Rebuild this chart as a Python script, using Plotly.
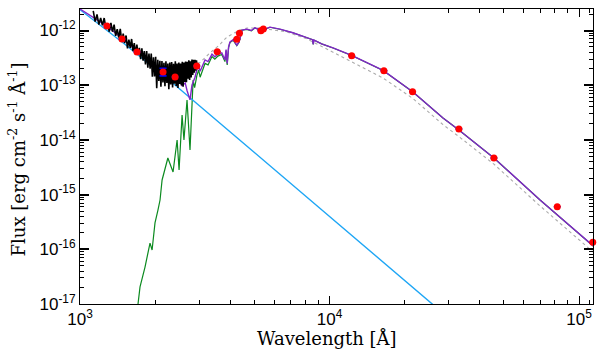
import plotly.graph_objects as go

S = 1e-13  # flux values below are in units of 1e-13 erg cm^-2 s^-1 A^-1

# Observed UV spectrum (black)
uv_wl = [1130, 1150, 1170, 1190, 1210, 1230, 1250, 1270, 1290, 1310, 1330, 1350, 1370, 1390,
         1410, 1430, 1450, 1470, 1490, 1510, 1530, 1550, 1570, 1590, 1610, 1630, 1650, 1670,
         1690, 1710, 1730, 1750, 1770, 1790, 1810, 1830, 1850, 1870, 1890, 1910, 1930, 1950,
         1970, 1990, 2010, 2030, 2050, 2070, 2090, 2110, 2130, 2150, 2170, 2190, 2210, 2230,
         2250, 2270, 2290, 2310, 2330, 2350, 2370, 2390, 2410, 2430, 2450, 2470, 2490, 2510,
         2530, 2550, 2570, 2590, 2610, 2630, 2650, 2670, 2690, 2710, 2730, 2750, 2770, 2790,
         2810, 2830, 2850, 2870, 2890, 2910, 2930, 2950]
uv_flux = [22.8, 14.5, 19.7, 12.8, 17.0, 12.4, 16.9, 11.0, 13.5, 9.5, 13.7, 9.5, 12.8, 8.0,
           10.6, 7.4, 10.7, 6.2, 8.8, 5.9, 8.1, 4.7, 6.8, 4.8, 7.0, 4.2, 5.9, 3.7,
           5.5, 3.6, 4.8, 3.0, 4.7, 2.8, 4.2, 2.4, 4.2, 2.1, 3.8, 2.0, 3.8, 1.43,
           3.25, 1.44, 3.3, 0.88, 2.9, 1.2, 2.8, 0.94, 2.76, 1.12, 2.57, 0.96, 2.75, 1.1,
           2.5, 0.84, 2.6, 1.03, 2.65, 0.91, 2.46, 1.06, 2.75, 0.97, 2.5, 0.89, 2.6, 1.05,
           2.5, 0.99, 2.67, 0.94, 2.6, 1.14, 2.7, 1.13, 2.68, 1.32, 2.85, 1.25, 2.74, 1.39,
           2.93, 1.54, 2.9, 1.69, 2.9, 1.84, 2.86, 1.98]

# Total model (purple)
tot_wl = [1000, 1130, 1282, 1473, 1692, 1900, 2152, 2405, 2500, 2565, 2640, 2685, 2720, 2760,
          2810, 2890, 2940, 2980, 3030, 3090, 3170, 3260, 3380, 3470, 3570, 3700, 3810, 3850,
          3890, 3940, 3990, 4110, 4250, 4340, 4400, 4460, 4660, 4860, 5020, 5350, 5770, 6330,
          7130, 7620, 8130, 8550, 8600, 8660, 9300, 10330, 12270, 16400, 21600, 28500, 33000,
          45600, 69800, 114000]
tot_flux = [24.7, 17.5, 12.0, 7.2, 4.2, 2.8, 1.85, 1.35, 1.2, 0.98, 1.1, 0.8, 0.65, 0.54,
            1.0, 1.4, 1.9, 2.3, 1.8, 2.2, 2.9, 2.7, 3.7, 3.3, 3.7, 3.9, 2.9, 4.5,
            2.5, 5.0, 6.2, 6.8, 5.4, 6.2, 8.5, 10.2, 10.6, 10.0, 11.2, 10.0, 11.5, 10.6,
            9.1, 8.2, 7.5, 6.8, 5.6, 6.7, 5.7, 4.8, 3.5, 1.86, 0.75, 0.251, 0.152,
            0.0467, 0.00796, 0.00115]

# Cool component (green)
cool_wl = [1708, 1740, 1822, 1908, 1945, 1998, 2053, 2093, 2133, 2191, 2250, 2360, 2450, 2495,
           2565, 2610, 2685, 2760, 2810, 2840, 2880, 2940, 2990, 3030, 3090, 3170, 3260, 3380,
           3470, 3570, 3700, 3810, 3850, 3890, 3940, 3990, 4110, 4250, 4340, 4400, 4460, 4660,
           4860, 5020, 5350, 5770, 6330, 7130, 7620, 8130, 8550, 8600, 8660, 9300, 10330, 12270,
           16400, 21600, 28500, 33000, 45600, 69800, 114000]
cool_flux = [0.0001, 0.000205, 0.000474, 0.0013, 0.00097, 0.00303, 0.00522, 0.00796, 0.0185,
             0.0282, 0.0467, 0.0259, 0.0995, 0.0282, 0.285, 0.0995, 0.536, 0.0653, 0.536,
             1.24, 0.9, 1.5, 1.9, 1.4, 1.8, 2.5, 2.35, 3.35, 3.0, 3.4, 3.65, 2.7, 4.3, 2.35,
             4.85, 6.0, 6.65, 5.3, 6.1, 8.4, 10.1, 10.5, 9.9, 11.1, 9.95, 11.45, 10.55, 9.08,
             8.18, 7.48, 6.79, 5.59, 6.69, 5.69, 4.79, 3.49, 1.86, 0.75, 0.251, 0.152, 0.0467,
             0.00796, 0.00115]

# Hot component (blue)
hot_wl = [1000, 1500, 2000, 2403, 5000, 10000, 26000, 30000]
hot_flux = [24.0, 5.77, 1.99, 1.01, 0.059, 0.0040, 0.000097, 0.0000557]

# Alternative model (grey dotted)
alt_wl = [2650, 2800, 2950, 3027, 3320, 3600, 3880, 4375, 4670, 5260, 6760, 8130, 10330,
          12270, 16400, 21600, 28500, 33000, 45600, 69800, 114000]
alt_flux = [2.6, 2.6, 2.5, 2.6, 3.9, 5.3, 7.6, 10.2, 11.1, 11.1, 9.4, 7.0, 4.0,
            2.65, 1.35, 0.57, 0.19, 0.115, 0.036, 0.0062, 0.00089]

# Photometry (red dots)
phot_wl = [1282, 1473, 1692, 2152, 2405, 2937, 3548, 4250, 4355, 5308, 5430, 12270, 16520,
           21520, 33000, 45600, 81800, 113500]
phot_flux = [12.1, 7.0, 4.05, 1.74, 1.41, 2.24, 4.09, 6.9, 8.9, 9.9, 10.6, 3.46, 1.84,
             0.76, 0.158, 0.0467, 0.0060, 0.00134]
phot_err_hi = [None, None, None, 0.30, None, None, None, None, None, None, None, None, None,
               None, None, None, None, None]
phot_err_lo = [None, None, None, 0.26, None, None, None, None, None, None, None, None, None,
               None, None, None, None, None]

x_tickvals = [1e3, 1e4, 1e5]
x_ticktext = ["10<sup>3</sup>", "10<sup>4</sup>", "10<sup>5</sup>"]
y_tickvals = [1e-17, 1e-16, 1e-15, 1e-14, 1e-13, 1e-12]
y_ticktext = ["10<sup>-17</sup>", "10<sup>-16</sup>", "10<sup>-15</sup>",
              "10<sup>-14</sup>", "10<sup>-13</sup>", "10<sup>-12</sup>"]
x_title = "Wavelength [Å]"
y_title = "Flux [erg cm<sup>-2</sup> s<sup>-1</sup> Å<sup>-1</sup>]"


def sc(v):
    return [None if a is None else a * S for a in v]


fig = go.Figure()
fig.add_trace(go.Scatter(x=cool_wl, y=sc(cool_flux), mode="lines",
                         line=dict(color="#0b8a1f", width=1.2), hoverinfo="skip"))
fig.add_trace(go.Scatter(x=hot_wl, y=sc(hot_flux), mode="lines",
                         line=dict(color="#1ea6f5", width=1.4), hoverinfo="skip"))
fig.add_trace(go.Scatter(x=alt_wl, y=sc(alt_flux), mode="lines",
                         line=dict(color="#ababab", width=1.1, dash="dot"), hoverinfo="skip"))
fig.add_trace(go.Scatter(x=tot_wl, y=sc(tot_flux), mode="lines",
                         line=dict(color="#8224c8", width=1.4), hoverinfo="skip"))
fig.add_trace(go.Scatter(x=uv_wl, y=sc(uv_flux), mode="lines",
                         line=dict(color="#000000", width=1.6), hoverinfo="skip"))
# error bars (drawn beneath the dots)
fig.add_trace(go.Scatter(x=phot_wl, y=sc(phot_flux), mode="markers", cliponaxis=False,
                         marker=dict(color="rgba(0,0,0,0)", size=1),
                         error_y=dict(type="data", symmetric=False, array=sc(phot_err_hi),
                                      arrayminus=sc(phot_err_lo), color="#0000ff",
                                      thickness=1.6, width=3.5),
                         hoverinfo="skip"))
fig.add_trace(go.Scatter(x=phot_wl, y=sc(phot_flux), mode="markers", cliponaxis=False,
                         marker=dict(color="#ff0000", size=7, line=dict(width=0)),
                         hoverinfo="skip"))

tickfont = dict(family="Liberation Sans, Arial, sans-serif", size=17, color="black")
titlefont = dict(family="DejaVu Serif, serif", size=18, color="black")

fig.update_layout(
    template="none",
    width=599, height=349,
    margin=dict(l=80, r=6, t=9, b=45, autoexpand=False),
    paper_bgcolor="white", plot_bgcolor="white",
    showlegend=False,
    xaxis=dict(type="log", range=[3, 5.056], tickmode="array", tickvals=x_tickvals,
               ticktext=x_ticktext, ticks="inside", ticklen=8, tickwidth=1.2,
               tickcolor="black", showline=True, linecolor="black", linewidth=1,
               mirror="allticks", showgrid=False, zeroline=False, tickfont=tickfont,
               ticklabelstandoff=0, automargin=False,
               minor=dict(ticks="inside", ticklen=4, tickwidth=1, tickcolor="black",
                          showgrid=False,
                          tickvals=[m * 10 ** e for e in (3, 4) for m in range(2, 10)] + [1.1e5])),
    yaxis=dict(type="log", range=[-17, -11.607], tickmode="array", tickvals=y_tickvals,
               ticktext=y_ticktext, ticks="inside", ticklen=9, tickwidth=1.5,
               tickcolor="black", showline=True, linecolor="black", linewidth=1,
               mirror="allticks", showgrid=False, zeroline=False, tickfont=tickfont,
               ticklabelstandoff=0, automargin=False,
               minor=dict(ticks="inside", ticklen=4, tickwidth=1, tickcolor="black",
                          showgrid=False,
                          tickvals=[m * 10.0 ** e for e in range(-17, -11) for m in range(2, 10)])),
    annotations=[
        dict(text=x_title, xref="paper", yref="paper", x=0.481, y=-0.118,
             xanchor="center", yanchor="middle", showarrow=False, font=titlefont),
        dict(text=y_title, xref="paper", yref="paper", x=-0.121, y=0.49, textangle=-90,
             xanchor="center", yanchor="middle", showarrow=False, font=titlefont),
    ],
)

fig.write_html("out.html", config={"displayModeBar": False},
               post_script="document.body.style.margin='0';")
